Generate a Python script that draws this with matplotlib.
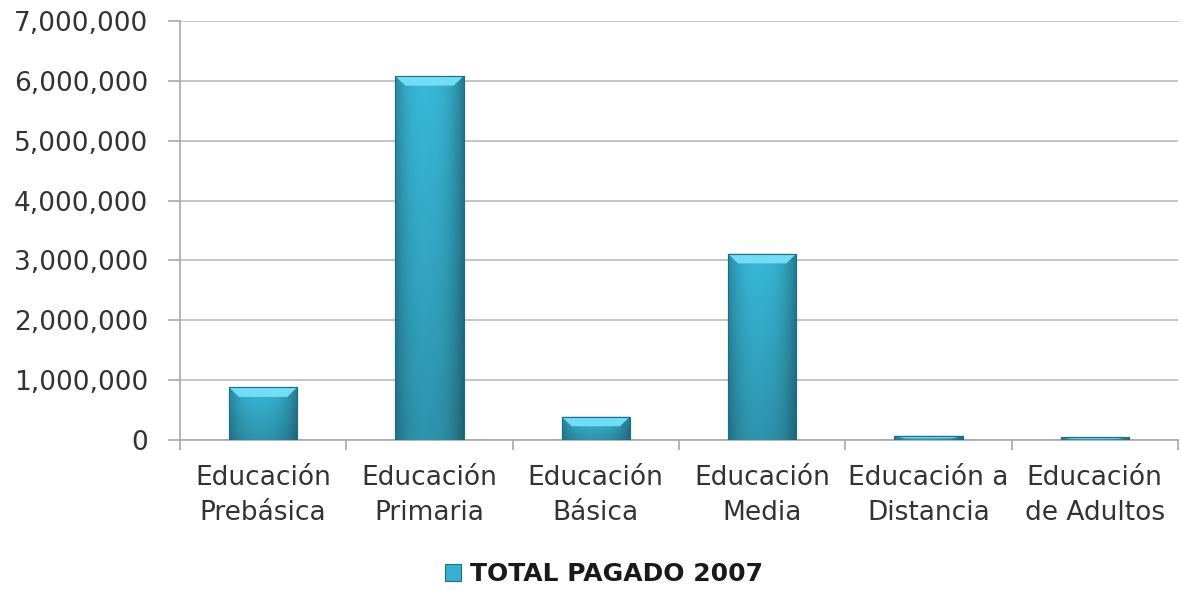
import numpy as np
import matplotlib.pyplot as plt
from matplotlib.patches import Polygon, Patch

# ================= DATOS =================
categorias = ["Educación\nPrebásica", "Educación\nPrimaria", "Educación\nBásica",
              "Educación\nMedia", "Educación a\nDistancia", "Educación\nde Adultos"]
total_pagado = [880000, 6080000, 390000, 3110000, 70000, 50000]
y_ticks = [0, 1000000, 2000000, 3000000, 4000000, 5000000, 6000000, 7000000]
serie = "TOTAL PAGADO 2007"

# ================= ESTILO =================
BAR_COLOR = "#35B0D2"
EDGE_COLOR = "#1D6E84"
BEVEL_COLOR = "#72DEF5"
TEXT_COLOR = "#333333"
GRID_COLOR = "#C0C0C0"
AXIS_COLOR = "#A8A8A8"

plt.rcParams["font.family"] = ["DejaVu Sans"]

fig = plt.figure(figsize=(11.81, 5.91), dpi=100)
ax = fig.add_axes([0.1524, 0.2555, 0.845, 0.709])

x = np.arange(len(categorias))
bars = ax.bar(x, total_pagado, width=0.41, color=BAR_COLOR, edgecolor=EDGE_COLOR,
              linewidth=0.8, zorder=3)

# --- degradado + bisel superior de cada barra ---
base = np.array([0.23, 0.75, 0.88])
t = np.linspace(0, 1, 60)
horiz = 1 - 0.28 * np.abs(2 * t - 1) ** 2.5 - 0.08 * t
vert = np.linspace(0.80, 1.0, 60)[:, None]
shade = vert * horiz[None, :]
grad = np.clip(base[None, None, :] * shade[:, :, None], 0, 1)

for b in bars:
    x0, w, h = b.get_x(), b.get_width(), b.get_height()
    im = ax.imshow(grad, extent=[x0, x0 + w, 0, h], origin="lower", aspect="auto",
                   zorder=3.2, interpolation="bilinear")
    im.set_clip_path(b)
    dx = 0.06
    dy = min(160000, h * 0.6)
    bevel = Polygon([(x0, h), (x0 + w, h), (x0 + w - dx, h - dy), (x0 + dx, h - dy)],
                    closed=True, facecolor=BEVEL_COLOR, edgecolor="none", zorder=3.4)
    ax.add_patch(bevel)
    ax.add_patch(plt.Rectangle((x0, 0), w, h, fill=False, edgecolor=EDGE_COLOR,
                               linewidth=0.8, zorder=3.5))

# ================= EJES =================
ax.set_xlim(-0.5, len(categorias) - 0.5)
ax.set_ylim(0, 7000000)
ax.set_yticks(y_ticks)
ax.set_yticklabels([f"{v:,}" for v in y_ticks])
ax.set_xticks(x)
ax.set_xticklabels(categorias, linespacing=1.45)
ax.set_xticks(np.arange(-0.5, len(categorias), 1), minor=True)

ax.yaxis.grid(True, color=GRID_COLOR, linewidth=1.3, zorder=0)
ax.set_axisbelow(True)
for s in ["top", "right"]:
    ax.spines[s].set_visible(False)
for s in ["left", "bottom"]:
    ax.spines[s].set_color(AXIS_COLOR)
    ax.spines[s].set_linewidth(1.2)

ax.tick_params(axis="y", labelsize=19, colors=TEXT_COLOR, length=9, width=1.2,
               pad=14, color=AXIS_COLOR)
ax.tick_params(axis="x", which="major", labelsize=19, colors=TEXT_COLOR, length=0, pad=18)
ax.tick_params(axis="x", which="minor", length=7, width=1.2, color=AXIS_COLOR)

# ================= LEYENDA =================
handle = Patch(facecolor=BAR_COLOR, edgecolor=EDGE_COLOR, linewidth=0.8)
fig.legend([handle], [serie], loc="center", bbox_to_anchor=(604 / 1181, 1 - 574 / 591),
           frameon=False, handlelength=0.65, handleheight=0.65, handletextpad=0.35,
           prop={"size": 18, "weight": "bold"}, labelcolor="#1A1A1A")

fig.savefig("out.png", dpi=100)
